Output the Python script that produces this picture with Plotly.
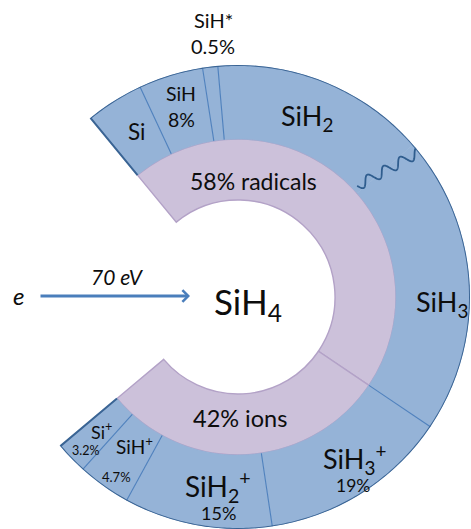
import numpy as np
import plotly.graph_objects as go

# ---------------- data ----------------
species = ["Si", "SiH", "SiH*", "SiH2", "SiH3", "SiH3+", "SiH2+", "SiH+", "Si+"]
# angular extent of each outer segment, degrees (as drawn)
arc_deg = [14.5, 16.2, 3.8, 54.0, 75.0, 47.5, 37.2, 13.3, 8.0]
pct_labels = ["", "8%", "0.5%", "", "", "19%", "15%", "4.7%", "3.2%"]
groups = ["58% radicals", "42% ions"]
group_members = [5, 4]          # first 5 species are radicals, last 4 ions
start_angle = -39.5             # clockwise from 12 o'clock

# ---------------- geometry / styles ----------------
W, H = 471, 529
CX, CY = 238, 297               # centre in pixels
RP = 232                        # polar radius in pixels (1 unit = 1 px)
R_HOLE, R_MID, R_OUT = 97, 158, 232

BLUE = "#95B3D7"
BLUE_DIV = "#4F81BD"
BLUE_EDGE = "#3A6494"
PURPLE = "#CCC1DA"
PURPLE_EDGE = "#B3A2C7"
FONT = "Lato"
TXT = "#0d0d0d"

# cumulative angles
edges = start_angle + np.concatenate([[0], np.cumsum(arc_deg)])
centers = (edges[:-1] + edges[1:]) / 2
g_edges = [edges[0], edges[group_members[0]], edges[-1]]
g_centers = [(g_edges[0] + g_edges[1]) / 2, (g_edges[1] + g_edges[2]) / 2]
g_widths = [g_edges[1] - g_edges[0], g_edges[2] - g_edges[1]]

fig = go.Figure()

# inner purple ring
fig.add_trace(go.Barpolar(
    theta=g_centers, width=g_widths, base=[R_HOLE] * 2, r=[R_MID - R_HOLE] * 2,
    marker=dict(color=PURPLE, line=dict(color=PURPLE_EDGE, width=1.4)),
    hoverinfo="skip", showlegend=False))

# outer blue ring
fig.add_trace(go.Barpolar(
    theta=list(centers), width=arc_deg, base=[R_MID] * len(arc_deg),
    r=[R_OUT - R_MID] * len(arc_deg),
    marker=dict(color=BLUE, line=dict(color=BLUE, width=0.6)),
    hoverinfo="skip", showlegend=False))

# straight dividers (all inner boundaries except SiH2|SiH3, which is wavy)
wave_idx = species.index("SiH3")
div_r, div_t = [], []
for i in range(1, len(species)):
    if i == wave_idx:
        continue
    div_r += [R_MID, R_OUT, None]
    div_t += [edges[i], edges[i], None]
fig.add_trace(go.Scatterpolar(r=div_r, theta=div_t, mode="lines",
                              line=dict(color=BLUE_DIV, width=1.1),
                              hoverinfo="skip", showlegend=False))

# wavy boundary between SiH2 and SiH3
a = edges[wave_idx]
def cart(r, th):
    t = np.radians(th)
    return np.array([r * np.sin(t), r * np.cos(t)])
p0 = cart(R_MID + 5, a - 2.0)
p1 = cart(R_OUT + 4, a + 2.5)
d = p1 - p0
L = np.hypot(*d)
u = d / L
nrm = np.array([u[1], -u[0]])
s = np.linspace(0, 1, 240)
amp, periods = 5.0, 4.0
pts = p0[None, :] + s[:, None] * d[None, :] + (amp * np.sin(2 * np.pi * periods * s))[:, None] * nrm[None, :]
wr = np.hypot(pts[:, 0], pts[:, 1])
wt = np.degrees(np.arctan2(pts[:, 0], pts[:, 1]))
fig.add_trace(go.Scatterpolar(r=wr, theta=wt, mode="lines",
                              line=dict(color="#2F5D8E", width=1.8),
                              cliponaxis=False, hoverinfo="skip", showlegend=False))

# dark outline of outer ring
arc_t = np.linspace(edges[0], edges[-1], 400)
out_r = [R_MID] + [R_OUT] * len(arc_t) + [R_MID]
out_t = [edges[0]] + list(arc_t) + [edges[-1]]
fig.add_trace(go.Scatterpolar(r=out_r, theta=out_t, mode="lines",
                              line=dict(color=BLUE_EDGE, width=2),
                              cliponaxis=False, hoverinfo="skip", showlegend=False))

fig.update_layout(
    width=W, height=H,
    margin=dict(l=0, r=0, t=0, b=0, pad=0),
    paper_bgcolor="white", plot_bgcolor="white",
    polar=dict(
        domain=dict(x=[(CX - RP) / W, (CX + RP) / W],
                    y=[(H - CY - RP) / H, (H - CY + RP) / H]),
        bgcolor="rgba(0,0,0,0)",
        barmode="overlay",
        radialaxis=dict(range=[0, RP], visible=False, showgrid=False),
        angularaxis=dict(rotation=90, direction="clockwise", visible=False,
                         showgrid=False, showline=False),
    ),
    showlegend=False,
)

def px(x, y):
    return x / W, 1 - y / H

def label(text, x, y, size, color=TXT):
    xx, yy = px(x, y)
    fig.add_annotation(x=xx, y=yy, xref="paper", yref="paper", text=text,
                       showarrow=False, xanchor="center", yanchor="middle",
                       font=dict(family=FONT, size=size, color=color))

# species labels
label("SiH*", 213, 20, 20)
label(pct_labels[2], 213, 46, 20)
label(species[0], 137, 132, 22.5)
label(species[1], 181, 93, 19.5)
label(pct_labels[1], 181, 119, 19.5)
label("SiH<sub>2</sub>", 307, 117, 27)
label("SiH<sub>3</sub>", 442, 303, 27)
label(groups[0], 253, 181, 23)
label(groups[1], 240, 418, 23.5)
label("SiH<sub>4</sub>", 248, 303, 35)
label("<i>70 eV</i>", 117, 276, 21)
label("<i>e</i>", 18, 295, 24)
label("Si<sup>+</sup>", 101, 431, 18)
label(pct_labels[8], 85, 450, 12.5)
label("SiH<sup>+</sup>", 134, 446, 19)
label(pct_labels[7], 116, 477, 13)
label("SiH<sub>2</sub><sup>+</sup>", 218, 486, 28)
label(pct_labels[6], 218, 513, 18)
label("SiH<sub>3</sub><sup>+</sup>", 354, 459, 27)
label(pct_labels[5], 353, 485, 17.5)

# electron arrow
hx, hy = px(190, 296)
fig.add_annotation(x=hx, y=hy, xref="paper", yref="paper", text="",
                   showarrow=True, ax=-151, ay=0, axref="pixel", ayref="pixel",
                   arrowhead=4, arrowsize=0.8, arrowwidth=2.8, arrowcolor="#4A7EBB")

fig.write_html("out.html",
               config={"displayModeBar": False},
               post_script="document.body.style.margin='0';"
                           "document.body.style.overflow='hidden';")
